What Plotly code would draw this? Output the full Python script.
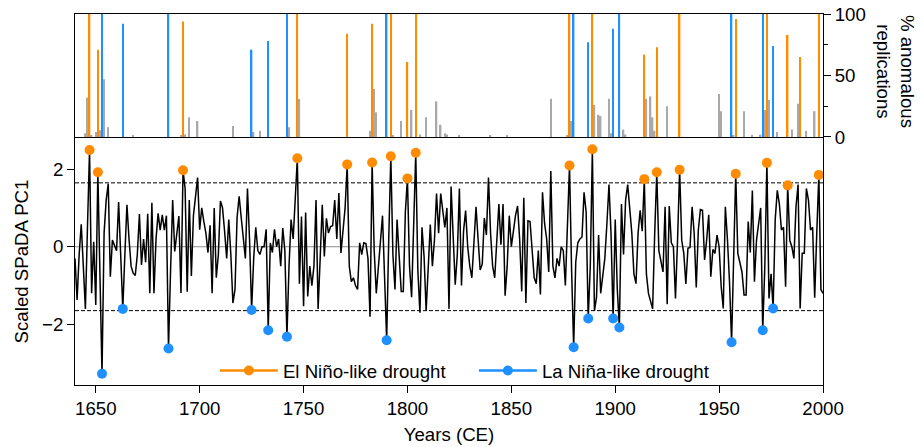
import plotly.graph_objects as go

# ---------------- data ----------------
start_year = 1640
pc1 = [
    # 1640s
    -0.30, -1.37, -0.20, 0.58, -0.50, -1.60, 0.50, 2.49, -1.20, 0.13,
    # 1650s
    -1.50, 1.92, -0.70, -3.27, 0.35, 1.20, 1.62, -0.77, 0.17, 0.05,
    # 1660s
    -0.10, 1.15, -0.20, -1.60, -0.20, 1.08, 0.20, -0.50, -0.68, -0.74,
    # 1670s
    -0.20, 0.84, -0.47, 0.20, -0.40, 0.85, -1.20, 1.13, -1.20, 0.20,
    # 1680s
    0.86, 0.43, 0.82, 0.43, 0.80, -2.62, -0.60, 1.20, -0.12, 0.35,
    # 1690s
    0.79, -1.19, 1.97, 1.50, -1.16, 1.20, -0.75, 0.80, 1.30, 1.78,
    # 1700s
    0.44, 1.00, 0.65, 0.35, -0.15, 0.55, -1.20, 1.00, -0.80, -0.20,
    # 1710s
    1.18, 1.00, 0.40, -0.30, 0.70, -0.20, -1.45, -1.10, 0.75, 1.30,
    # 1720s
    0.75, 0.30, -0.30, 1.50, 0.20, -1.63, -0.30, 0.50, -0.10, -0.20,
    # 1730s
    0.00, 0.00, 0.45, -2.15, 0.10, -0.15, 0.45, 0.00, 0.20, -0.50,
    # 1740s
    0.48, -0.10, -2.32, -0.50, 0.70, 0.20, 1.10, 2.28, -0.95, 0.78,
    # 1750s
    -1.53, 0.88, -1.28, -0.50, -1.00, -0.50, 1.20, -1.60, -0.30, 1.08,
    # 1760s
    -0.25, 0.73, 0.35, 0.52, 0.54, 1.20, 0.20, 1.38, -0.16, 0.50,
    # 1770s
    1.00, 2.12, -0.50, -0.90, -0.80, -1.00, -1.10, 0.10, -0.20, 0.10,
    # 1780s
    0.08, -0.30, -1.80, 2.17, -0.10, -1.20, -0.50, 0.30, 0.80, -0.80,
    # 1790s
    -2.41, 0.20, 2.33, -0.20, -1.10, 0.70, -0.30, -1.15, -1.15, 0.90,
    # 1800s
    1.76, -0.50, -1.30, 0.60, 2.42, -0.60, -1.70, 0.50, -0.25, -1.65,
    # 1810s
    -0.50, 0.57, -0.50, 0.18, 1.37, 0.35, 1.37, 0.86, 0.50, 1.00,
    # 1820s
    -1.60, 1.55, 0.20, -0.98, -0.20, 1.50, -1.00, 0.40, 0.93, 0.00,
    # 1830s
    -0.50, -0.80, 0.10, 1.03, 0.20, -0.60, -0.45, 0.74, 0.30, 1.78,
    # 1840s
    0.35, -0.50, -0.80, 0.20, 1.10, 0.05, 1.10, -1.26, -0.50, 0.80,
    # 1850s
    0.00, 0.40, 0.80, 1.05, 0.20, -1.15, 1.26, -1.45, 0.67, 0.65,
    # 1860s
    -0.20, -0.80, -0.95, -0.10, -1.23, 1.40, 0.60, 0.20, -0.65, 1.95,
    # 1870s
    -0.50, -0.80, -0.30, -0.50, 0.00, -0.10, -1.00, 0.50, 2.09, -0.60,
    # 1880s
    -2.59, -0.40, 0.10, 0.20, 0.25, 1.40, 0.90, -1.85, -0.50, 2.51,
    # 1890s
    -1.65, -1.30, 0.30, -1.20, -0.80, -0.30, 0.60, 1.60, 0.30, -1.85,
    # 1900s
    0.70, -1.10, -2.08, 1.10, -0.20, 1.20, 1.60, 0.85, 0.35, -0.70,
    # 1910s
    -0.95, 0.35, 0.94, 0.40, 1.74, -0.70, -1.20, -1.40, -1.60, 0.35,
    # 1920s
    1.92, -0.10, -0.35, -0.65, 1.03, -1.48, 1.05, 0.10, 0.00, -1.33,
    # 1930s
    0.17, 1.98, 0.17, -0.17, -0.96, -0.04, -0.02, 1.03, 0.34, -1.05,
    # 1940s
    0.43, 0.96, 0.94, -0.34, 0.17, 0.82, -0.77, -0.07, -0.17, 0.30,
    # 1950s
    0.00, -1.03, -1.59, 1.03, 0.20, -0.90, -2.46, -0.30, 1.88, -0.17,
    # 1960s
    -0.43, -0.65, -1.24, -1.24, 0.65, -0.15, 1.45, -0.90, 0.17, 0.60,
    # 1970s
    1.00, -2.15, -0.50, 2.16, -1.33, -0.70, -1.59, 0.70, 1.45, 1.10,
    # 1980s
    0.43, 0.50, -1.03, 1.58, 0.17, 0.00, -0.30, 1.03, 1.60, -1.59,
    # 1990s
    -0.17, -0.17, 1.50, 1.20, 0.43, 0.50, -1.31, 0.35, 1.85, -1.10,
    # 2000
    -1.20,
]
years = list(range(start_year, start_year + len(pc1)))

elnino_years = [1647, 1651, 1692, 1747, 1771, 1783, 1792, 1800, 1804,
                1878, 1889, 1914, 1920, 1931, 1958, 1973, 1983, 1998]
lanina_years = [1653, 1663, 1685, 1725, 1733, 1742, 1790, 1880, 1887,
                1899, 1902, 1956, 1971, 1976]

# % anomalous replications (top panel)
elnino_bar_years = [1647, 1651, 1692, 1747, 1771, 1783, 1792, 1800, 1804, 1878,
                    1889, 1914, 1920, 1931, 1958, 1973, 1983, 1989, 1998]
elnino_bar_pct = [100, 71, 94, 100, 84, 92, 100, 61, 100, 100,
                  100, 67, 73, 100, 96, 100, 83, 65, 100]
lanina_bar_years = [1653, 1663, 1685, 1725, 1733, 1742, 1790, 1880, 1887,
                    1899, 1902, 1956, 1971, 1976]
lanina_bar_pct = [100, 92, 100, 71, 78, 100, 100, 100, 77, 88, 100, 100, 100, 74]
other_bar_years = [1645, 1646, 1648, 1650, 1652, 1654, 1656, 1668, 1691, 1693,
                   1695, 1699, 1716, 1726, 1729, 1743, 1748, 1782, 1784, 1785,
                   1793, 1797, 1802, 1806, 1809, 1814, 1816, 1818, 1819, 1825,
                   1840, 1848, 1869, 1877, 1879, 1890, 1892, 1893, 1897, 1898,
                   1904, 1905, 1915, 1917, 1918, 1919, 1925, 1950, 1951, 1957,
                   1962, 1966, 1970, 1972, 1974, 1978, 1985, 1988, 1992, 1996]
other_bar_pct = [3, 32, 1.5, 4, 5.5, 47, 8, 1, 1, 2,
                 16, 13, 9, 4, 5, 8, 31, 5, 39, 20,
                 1, 13, 22, 2, 16, 29, 10, 3, 2, 1,
                 1, 1, 31, 1, 13, 26, 18, 17, 31, 3,
                 6, 2, 31, 33, 16, 5, 25, 35, 21, 1,
                 21, 1, 2, 22, 30, 4, 6, 27, 5, 21]

threshold = 1.645
x_ticks = [1650, 1700, 1750, 1800, 1850, 1900, 1950, 2000]
y_ticks = [-2, 0, 2]
pct_ticks = [0, 50, 100]

ORANGE = "#FF8C00"
BLUE = "#1E90FF"
GRAY = "#A9A9A9"
FONT = "Liberation Sans, Arial, sans-serif"
FS = 18.67

value_of = dict(zip(years, pc1))


def gapped(yrs):
    xs, ys = [], []
    for yr in yrs:
        xs += [yr, None]
        ys += [value_of[yr], None]
    return xs, ys


fig = go.Figure()

# top panel bars
fig.add_trace(go.Bar(x=other_bar_years, y=other_bar_pct, width=0.7,
                     marker=dict(color=GRAY, line=dict(width=0)),
                     xaxis="x", yaxis="y", showlegend=False))
fig.add_trace(go.Bar(x=elnino_bar_years, y=elnino_bar_pct, width=0.7,
                     marker=dict(color=ORANGE, line=dict(width=0)),
                     xaxis="x", yaxis="y", showlegend=False))
fig.add_trace(go.Bar(x=lanina_bar_years, y=lanina_bar_pct, width=0.7,
                     marker=dict(color=BLUE, line=dict(width=0)),
                     xaxis="x", yaxis="y", showlegend=False))

# bottom panel line
fig.add_trace(go.Scatter(x=years, y=pc1, mode="lines",
                         line=dict(color="black", width=1.5),
                         xaxis="x2", yaxis="y2", showlegend=False))

ex, ey = gapped(elnino_years)
lx, ly = gapped(lanina_years)
fig.add_trace(go.Scatter(x=ex, y=ey, mode="lines+markers", name="El Niño-like drought",
                         line=dict(color=ORANGE, width=2.5),
                         marker=dict(color=ORANGE, size=10, line=dict(width=0)),
                         connectgaps=False, xaxis="x2", yaxis="y2"))
fig.add_trace(go.Scatter(x=lx, y=ly, mode="lines+markers", name="La Niña-like drought",
                         line=dict(color=BLUE, width=2.5),
                         marker=dict(color=BLUE, size=10, line=dict(width=0)),
                         connectgaps=False, xaxis="x2", yaxis="y2"))

shapes = [
    dict(type="line", xref="x2 domain", x0=0, x1=1, yref="y2", y0=0, y1=0,
         line=dict(color="#8c8c8c", width=1), layer="below"),
    dict(type="line", xref="x2 domain", x0=0, x1=1, yref="y2", y0=threshold, y1=threshold,
         line=dict(color="black", width=1, dash="4px,2px"), layer="below"),
    dict(type="line", xref="x2 domain", x0=0, x1=1, yref="y2", y0=-threshold, y1=-threshold,
         line=dict(color="black", width=1, dash="4px,2px"), layer="below"),
]

axis_common = dict(showline=True, linecolor="black", linewidth=1, mirror=True,
                   showgrid=False, zeroline=False, automargin=False,
                   tickfont=dict(family=FONT, size=FS, color="black"),
                   tickcolor="black")

fig.update_layout(
    width=923, height=447,
    margin=dict(l=75, r=100, t=14, b=62),
    paper_bgcolor="white", plot_bgcolor="white",
    font=dict(family=FONT, size=FS, color="black"),
    barmode="overlay",
    shapes=shapes,
    xaxis=dict(domain=[0, 1], anchor="y", range=[1640, 2000],
               showticklabels=False, ticks="", **axis_common),
    yaxis=dict(domain=[0.6685, 1], anchor="x", side="right", range=[0, 100],
               tickvals=pct_ticks, ticks="outside", ticklen=7,
               ticklabeloverflow="allow",
               minor=dict(tickvals=[25, 75], ticks="outside", ticklen=4, tickcolor="black"),
               **axis_common),
    xaxis2=dict(domain=[0, 1], anchor="y2", range=[1640, 2000],
                tickvals=x_ticks, ticks="outside", ticklen=7,
                title=dict(text="Years (CE)", font=dict(family=FONT, size=FS), standoff=9),
                **axis_common),
    yaxis2=dict(domain=[0, 0.6658], anchor="x2", range=[-3.56, 2.8],
                tickvals=y_ticks, ticks="outside", ticklen=7,
                title=dict(text="Scaled SPaDA PC1", font=dict(family=FONT, size=FS), standoff=8),
                **axis_common),
    legend=dict(orientation="h", x=0.187, xanchor="left", y=0.038, yanchor="middle",
                bgcolor="rgba(0,0,0,0)", font=dict(family=FONT, size=FS),
                itemwidth=58, entrywidth=186, entrywidthmode="pixels"),
    annotations=[dict(text="% anomalous<br>replications", textangle=90,
                      xref="paper", yref="paper", x=1.097, y=0.845,
                      xanchor="center", yanchor="middle", showarrow=False,
                      font=dict(family=FONT, size=FS, color="black"))],
)

# remove the default 8px page margin so the figure fills the window exactly
fig.write_html("out.html", config={"displayModeBar": False},
               post_script="document.body.style.margin='0';")
